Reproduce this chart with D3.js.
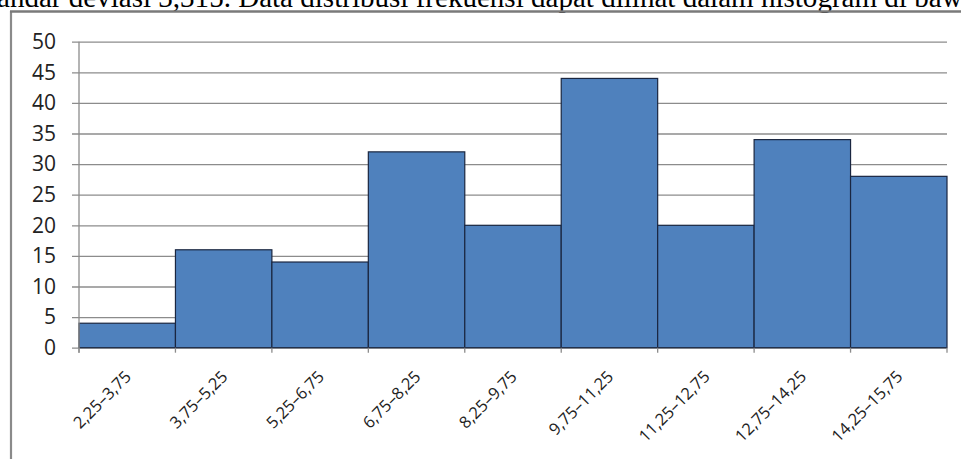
<!DOCTYPE html>
<html>
<head>
<meta charset="utf-8">
<script src="https://cdn.jsdelivr.net/npm/d3@7/dist/d3.min.js"></script>
<style>
  html, body { margin: 0; padding: 0; background: #fff; overflow: hidden; }
  svg { display: block; }
</style>
</head>
<body>
<script>
// Frequency distribution of the class intervals
const classes = ["2,25–3,75", "3,75–5,25", "5,25–6,75", "6,75–8,25", "8,25–9,75",
                 "9,75–11,25", "11,25–12,75", "12,75–14,25", "14,25–15,75"];
const frequencies = [4, 16, 14, 32, 20, 44, 20, 34, 28];
const yTicks = [0, 5, 10, 15, 20, 25, 30, 35, 40, 45, 50];
const captionText = "standar deviasi 3,315. Data distribusi frekuensi dapat dilihat dalam histogram di bawah ini.";

const W = 961, H = 459;
const margin = { left: 79, right: 14, top: 41.7, bottom: 111.3 };

const svg = d3.select("body").append("svg")
  .attr("width", W).attr("height", H);

// Running text of the document above the chart
const caption = svg.append("text")
  .attr("y", 6.5)
  .attr("font-family", "'Liberation Serif', 'Times New Roman', serif")
  .attr("font-size", 22)
  .attr("fill", "#000")
  .text(captionText);
{
  const node = caption.node();
  const startIdx = captionText.indexOf("andar");
  const endIdx = captionText.indexOf("bawah") + 3;
  const visW = node.getSubStringLength(startIdx, endIdx - startIdx);
  const size = 22 * (966 / visW);
  caption.attr("font-size", size);
  const pre = node.getSubStringLength(0, startIdx);
  caption.attr("x", -3 - pre);
}

// Chart frame
svg.append("line").attr("x1", 11).attr("x2", 11).attr("y1", 11).attr("y2", H)
  .attr("stroke", "#8a8a8a").attr("stroke-width", 2.2);
svg.append("line").attr("x1", 10).attr("x2", W).attr("y1", 11.5).attr("y2", 11.5)
  .attr("stroke", "#7a7a7a").attr("stroke-width", 2.4);

const x = d3.scaleBand()
  .domain(classes)
  .range([margin.left, W - margin.right])
  .paddingInner(0).paddingOuter(0);

const y = d3.scaleLinear()
  .domain([0, 50])
  .range([H - margin.bottom, margin.top]);

// Horizontal gridlines with y ticks
const yAxis = d3.axisLeft(y)
  .tickValues(yTicks)
  .tickSize(-(W - margin.right - margin.left))
  .tickSizeOuter(0)
  .tickPadding(23);

const gy = svg.append("g")
  .attr("transform", `translate(${margin.left},0)`)
  .call(yAxis);
gy.select(".domain").remove();
gy.selectAll(".tick line")
  .attr("x1", -7)
  .attr("stroke", "#8c8c8c")
  .attr("stroke-width", 1.3);
gy.selectAll(".tick text")
  .attr("font-family", "'Open Sans', sans-serif")
  .attr("font-size", 21)
  .attr("fill", "#222");

// Bars
svg.append("g").selectAll("rect")
  .data(frequencies)
  .join("rect")
  .attr("x", (d, i) => x(classes[i]))
  .attr("width", x.bandwidth())
  .attr("y", d => y(d))
  .attr("height", d => y(0) - y(d))
  .attr("fill", "#4f81bd")
  .attr("stroke", "#1a2640")
  .attr("stroke-width", 1.2);

// Vertical axis line
svg.append("line")
  .attr("x1", margin.left).attr("x2", margin.left)
  .attr("y1", y(50)).attr("y2", y(0) + 5)
  .attr("stroke", "#8c8c8c").attr("stroke-width", 1.3);

// Category boundary ticks on the base line
const bounds = classes.map(c => x(c)).concat([x(classes[classes.length - 1]) + x.bandwidth()]);
svg.append("g").selectAll("line")
  .data(bounds)
  .join("line")
  .attr("x1", d => d).attr("x2", d => d)
  .attr("y1", y(0)).attr("y2", y(0) + 5)
  .attr("stroke", "#8c8c8c").attr("stroke-width", 1.3);

// Rotated class labels
const xAxis = d3.axisBottom(x).tickSize(0).tickPadding(0);
const gx = svg.append("g")
  .attr("transform", `translate(0,${y(0)})`)
  .call(xAxis);
gx.select(".domain").remove();
gx.selectAll(".tick text")
  .attr("font-family", "'Open Sans', sans-serif")
  .attr("font-size", 16.5)
  .attr("fill", "#222")
  .attr("text-anchor", "end")
  .attr("dy", 0)
  .attr("transform", "translate(5,30) rotate(-45)");
</script>
</body>
</html>
